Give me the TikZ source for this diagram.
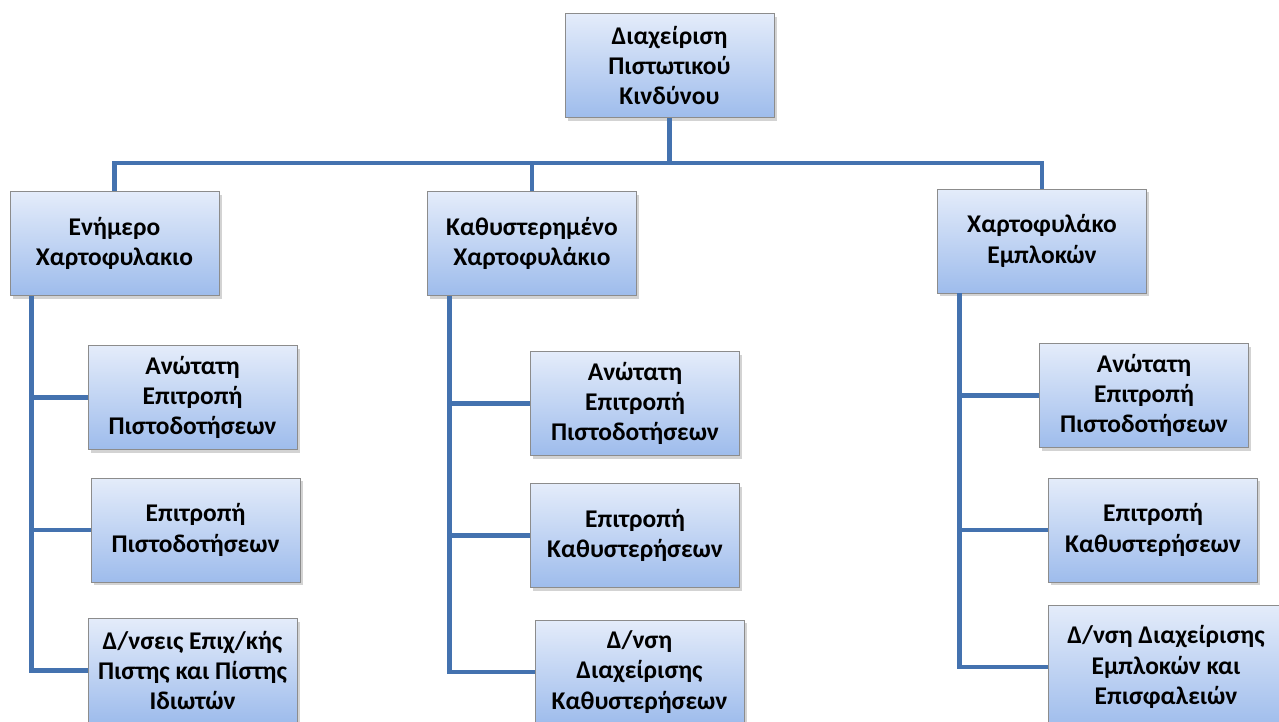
\documentclass[tikz,border=0pt]{standalone}
\usepackage{fontspec}
\setmainfont{Carlito}
\usetikzlibrary{positioning,shadows,calc}
\definecolor{boxtop}{RGB}{228,236,250}
\definecolor{boxbot}{RGB}{158,188,236}
\definecolor{linkblue}{RGB}{68,114,175}

\begin{document}
\begin{tikzpicture}[x=0.02cm, y=-0.02cm,
    unit/.style={draw=black!45, line width=0.5pt, top color=boxtop, bottom color=boxbot,
      minimum width=4.18cm, minimum height=2.08cm, align=center, inner sep=2pt,
      font=\fontsize{14.5}{17.2}\selectfont\bfseries,
      drop shadow={shadow xshift=1.5pt, shadow yshift=-1.8pt, opacity=0.35}},
    link/.style={line width=2.8pt, draw=linkblue}
  ]
    \useasboundingbox (0,0) rectangle (1279,722);
    \clip (0,0) rectangle (1279,722);

    \node[unit] (root) at (669.5,65.5) {Διαχείριση\\Πιστωτικού\\Κινδύνου};

    \node[unit] (portA) at (114.5,243.5) {Ενήμερο\\Χαρτοφυλακιο};
    \node[unit] (portB) at (532,243.5) {Καθυστερημένο\\Χαρτοφυλάκιο};
    \node[unit] (portC) at (1042,241) {Χαρτοφυλάκο\\Εμπλοκών};

    % first branch
    \node[unit] (aSup) at (192.5,397.5) {Ανώτατη\\Επιτροπή\\Πιστοδοτήσεων};
    \node[unit] (aCom) at (195.5,530) {Επιτροπή\\Πιστοδοτήσεων};
    \node[unit] (aDiv) at (192.5,670.5) {Δ/νσεις Επιχ/κής\\Πιστης και Πίστης\\Ιδιωτών};

    % second branch
    \node[unit] (bSup) at (635,403.5) {Ανώτατη\\Επιτροπή\\Πιστοδοτήσεων};
    \node[unit] (bCom) at (635,535.5) {Επιτροπή\\Καθυστερήσεων};
    \node[unit] (bDiv) at (639.5,672) {Δ/νση\\Διαχείρισης\\Καθυστερήσεων};

    % third branch
    \node[unit] (cSup) at (1144,395.5) {Ανώτατη\\Επιτροπή\\Πιστοδοτήσεων};
    \node[unit] (cCom) at (1153,530) {Επιτροπή\\Καθυστερήσεων};
    \node[unit, minimum width=4.7cm, minimum height=2.48cm] (cDiv) at (1166,667) {Δ/νση Διαχείρισης\\Εμπλοκών και\\Επισφαλειών};

    \coordinate (bus) at (669.5,163);
    \draw[link] (root.south) -- (bus);
    \draw[link] (portA.north) |- (bus) -| (portC.north);
    \draw[link] (portB.north) -- (portB.north |- bus);

    \coordinate (spA) at ([xshift=0.44cm]portA.south west);
    \coordinate (spB) at ([xshift=0.44cm]portB.south west);
    \coordinate (spC) at ([xshift=0.44cm]portC.south west);

    \draw[link] (spA) |- (aDiv.west);
    \draw[link] (spA |- aSup.west) -- (aSup.west);
    \draw[link] (spA |- aCom.west) -- (aCom.west);

    \draw[link] (spB) |- (bDiv.west);
    \draw[link] (spB |- bSup.west) -- (bSup.west);
    \draw[link] (spB |- bCom.west) -- (bCom.west);

    \draw[link] (spC) |- (cDiv.west);
    \draw[link] (spC |- cSup.west) -- (cSup.west);
    \draw[link] (spC |- cCom.west) -- (cCom.west);
  \end{tikzpicture}
\end{document}
